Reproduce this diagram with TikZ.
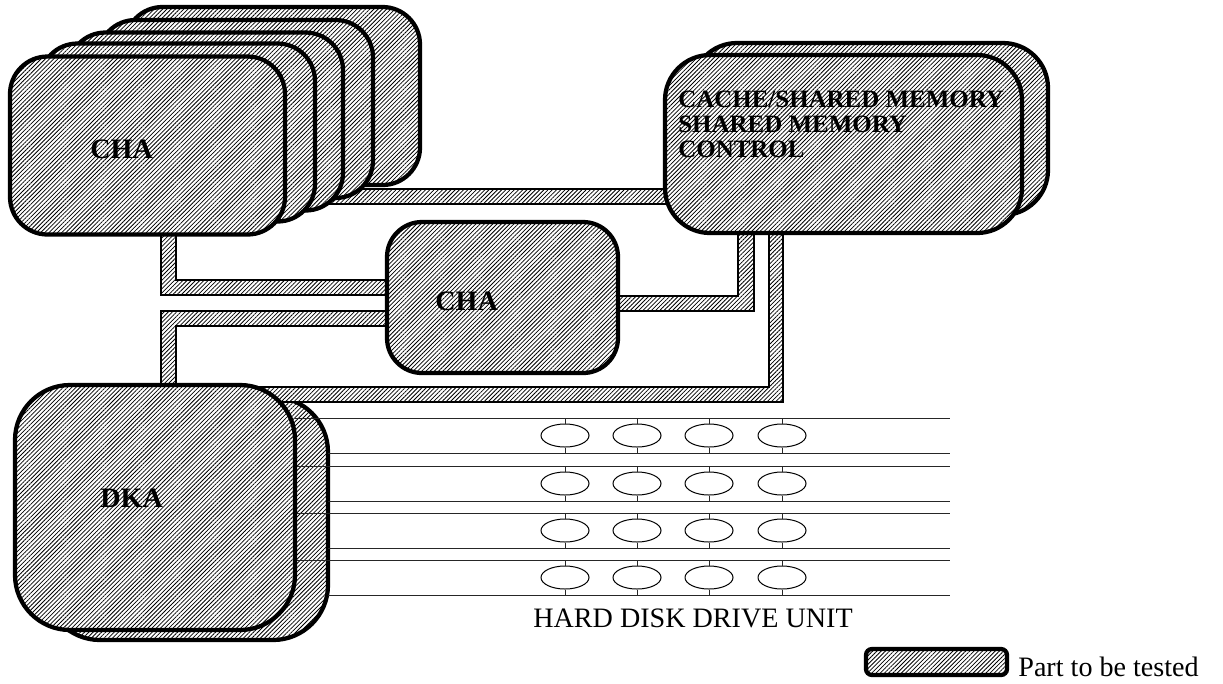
\documentclass[tikz,border=0pt]{standalone}
\usepackage{fontspec}
\setmainfont{Liberation Serif}
\usetikzlibrary{patterns.meta,shapes.geometric}

\begin{document}
\begin{tikzpicture}[x=0.2mm,y=-0.2mm,
  unit/.style={draw,line width=0.85mm,rounded corners=7.5mm,inner sep=0pt,
               preaction={fill=white},
               pattern={Lines[angle=45,distance=1.7pt,line width=0.45pt]}},
  bus/.style={draw,line width=0.3mm,preaction={fill=white},
              pattern={Lines[angle=45,distance=1.7pt,line width=0.45pt]}},
  lbl/.style={font=\fontsize{16}{16}\selectfont\bfseries,anchor=base west,inner sep=0pt},
  txt/.style={font=\fontsize{16}{16}\selectfont,anchor=base west,inner sep=0pt},
  disk/.style={draw,ellipse,line width=0.2mm,minimum width=9.6mm,minimum height=4.6mm,inner sep=0pt},
  wire/.style={line width=0.2mm,black!85}
]
\useasboundingbox (0,0) rectangle (1223,683);

% DKA (back)
\node[unit,rounded corners=11mm,minimum width=56.6mm,minimum height=48.6mm] (dka2) at (186.5,518.5) {};

% Buses
\filldraw[bus] (161,200) -- (161,295) -- (420,295) -- (420,280) -- (176,280) -- (176,200) -- cycle;
\filldraw[bus] (420,311) -- (161,311) -- (161,430) -- (176,430) -- (176,326) -- (420,326) -- cycle;
\filldraw[bus] (250,387) -- (769,387) -- (769,200) -- (783,200) -- (783,402) -- (250,402) -- cycle;
\filldraw[bus] (590,296) -- (738,296) -- (738,200) -- (754,200) -- (754,311) -- (590,311) -- cycle;
\filldraw[bus] (300,189) -- (700,189) -- (700,204) -- (300,204) -- cycle;

% CHA stack
\node[unit,minimum width=59mm,minimum height=35.6mm] (cha5) at (272.5,96) {};
\node[unit,minimum width=55mm,minimum height=35.6mm] (cha4) at (235.5,109) {};
\node[unit,minimum width=55mm,minimum height=35.6mm] (cha3) at (205.5,121.5) {};
\node[unit,minimum width=55mm,minimum height=35.6mm] (cha2) at (177.5,132.5) {};
\node[unit,minimum width=55mm,minimum height=35.6mm] (cha1) at (147.5,145.5) {};
\node[lbl] (cha1-lbl) at (90,158) {CHA};

% Cache / shared memory
\node[unit,rounded corners=9mm,minimum width=71.2mm,minimum height=34.4mm] (cache2) at (870,129) {};
\node[unit,rounded corners=9mm,minimum width=71.4mm,minimum height=35.6mm] (cache1) at (843.5,144) {};
\node[lbl,font=\fontsize{14.2}{14.2}\selectfont\bfseries,anchor=north west,align=left]
  (cache-lbl) at (678,91) {CACHE/SHARED MEMORY\\SHARED MEMORY\\CONTROL};

% middle CHA
\node[unit,rounded corners=7mm,minimum width=46.2mm,minimum height=30.2mm] (cha) at (502.5,297.5) {};
\node[lbl] (cha-lbl) at (435,310) {CHA};

% Hard disk drives
\foreach \r/\yt in {1/418,2/466,3/513,4/560} {
  \pgfmathsetmacro\yb{\yt+35}
  \pgfmathsetmacro\yc{\yt+17.5}
  \draw[wire] (295,\yt) -- (950,\yt);
  \draw[wire] (328,\yb) -- (950,\yb);
  \foreach \c/\x in {1/565,2/637,3/709,4/782} {
    \node[disk] (hdd\r\c) at (\x,\yc) {};
    \draw[wire] (hdd\r\c.north) -- (\x,\yt);
    \draw[wire] (hdd\r\c.south) -- (\x,\yb);
  }
}
\node[txt] (hdd-lbl) at (533,627) {HARD DISK DRIVE UNIT};

% DKA (front)
\node[unit,rounded corners=11mm,minimum width=56mm,minimum height=49mm] (dka1) at (155,507.5) {};
\node[lbl] (dka-lbl) at (100,507) {DKA};

% Legend
\node[unit,rounded corners=1.2mm,minimum width=28.2mm,minimum height=5.2mm] (key) at (936.5,662) {};
\node[txt] (key-lbl) at (1018,676) {Part to be tested};

\end{tikzpicture}
\end{document}
